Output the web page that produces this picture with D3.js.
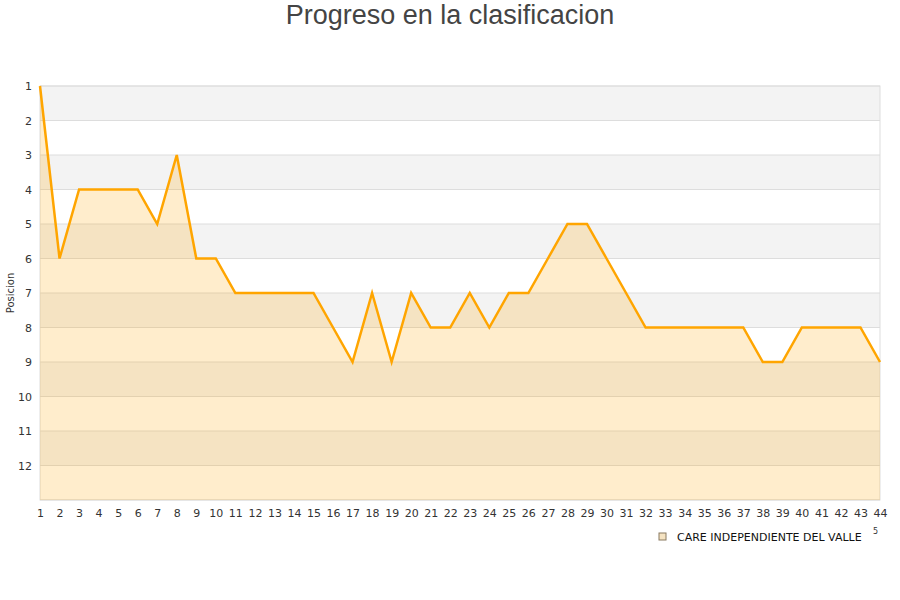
<!DOCTYPE html>
<html>
<head>
<meta charset="utf-8">
<script src="https://cdn.jsdelivr.net/npm/d3@7"></script>
<style>
  body { margin: 0; background: #fff; }
  svg { display: block; }
</style>
</head>
<body>
<div id="chart"></div>
<script>
// jornadas y posiciones
const rounds = d3.range(1, 45);
const positions = [1, 6, 4, 4, 4, 4, 5, 3, 6, 6, 7, 7, 7, 7, 7, 8, 9, 7, 9, 7, 8, 8,
                   7, 8, 7, 7, 6, 5, 5, 6, 7, 8, 8, 8, 8, 8, 8, 9, 9, 8, 8, 8, 8, 9];
const yTicks = d3.range(1, 13);
const teamName = "CARE INDEPENDIENTE DEL VALLE";

const width = 900, height = 600;
const margin = {top: 86, right: 20, bottom: 100, left: 40};

const svg = d3.select("#chart").append("svg")
    .attr("width", width)
    .attr("height", height);

const x = d3.scaleLinear()
    .domain([1, 44])
    .range([margin.left, width - margin.right]);

const y = d3.scaleLinear()
    .domain([1, 13])
    .range([margin.top, height - margin.bottom]);

// alternating bands
svg.append("g").selectAll("rect")
  .data(d3.range(1, 13))
  .enter().append("rect")
    .attr("x", x(1))
    .attr("y", d => y(d))
    .attr("width", x(44) - x(1))
    .attr("height", d => y(d + 1) - y(d))
    .attr("fill", d => d % 2 === 1 ? "#f3f3f3" : "#ffffff");

// grid lines
svg.append("g").selectAll("line")
  .data(d3.range(1, 14))
  .enter().append("line")
    .attr("x1", x(1)).attr("x2", x(44))
    .attr("y1", d => y(d)).attr("y2", d => y(d))
    .attr("stroke", "#dddddd")
    .attr("stroke-width", 1);

// plot border
svg.append("rect")
    .attr("x", x(1)).attr("y", y(1))
    .attr("width", x(44) - x(1)).attr("height", y(13) - y(1))
    .attr("fill", "none")
    .attr("stroke", "#dddddd");

const data = rounds.map((r, i) => ({r: r, p: positions[i]}));

svg.append("path")
    .datum(data)
    .attr("fill", "rgba(255,165,0,0.2)")
    .attr("d", d3.area()
        .x(d => x(d.r))
        .y0(y(13))
        .y1(d => y(d.p)));

svg.append("path")
    .datum(data)
    .attr("fill", "none")
    .attr("stroke", "#ffa500")
    .attr("stroke-width", 2.5)
    .attr("stroke-linejoin", "miter")
    .attr("d", d3.line()
        .x(d => x(d.r))
        .y(d => y(d.p)));

// axes
const xAxis = svg.append("g")
    .attr("transform", "translate(0," + (y(13) + 6) + ")")
    .call(d3.axisBottom(x).tickValues(rounds).tickFormat(d3.format("d")).tickSize(0));
xAxis.select(".domain").remove();
xAxis.selectAll("text")
    .attr("fill", "#333")
    .style("font-family", "DejaVu Sans")
    .style("font-size", "11px");

const yAxis = svg.append("g")
    .attr("transform", "translate(" + (x(1) - 8) + ",0)")
    .call(d3.axisLeft(y).tickValues(yTicks).tickFormat(d3.format("d")).tickSize(0).tickPadding(0));
yAxis.select(".domain").remove();
yAxis.selectAll("text")
    .attr("fill", "#333")
    .style("font-family", "DejaVu Sans")
    .style("font-size", "11px");

// y title
svg.append("text")
    .attr("transform", "translate(14," + ((y(1) + y(13)) / 2) + ") rotate(-90)")
    .attr("text-anchor", "middle")
    .attr("fill", "#333")
    .style("font-family", "DejaVu Sans")
    .style("font-size", "10px")
    .text("Posicion");

// title
svg.append("text")
    .attr("x", width / 2)
    .attr("y", 24)
    .attr("text-anchor", "middle")
    .attr("fill", "#444")
    .style("font-family", "Liberation Sans, Arial, sans-serif")
    .style("font-size", "27px")
    .text("Progreso en la clasificacion");

// legend
const legend = svg.append("g").attr("transform", "translate(659,533)");
legend.append("rect")
    .attr("width", 7).attr("height", 7)
    .attr("fill", "#f5e3c2")
    .attr("stroke", "#8a7a60")
    .attr("stroke-width", 1);
legend.append("text")
    .attr("x", 18).attr("y", 7.5)
    .attr("fill", "#111")
    .style("font-family", "DejaVu Sans")
    .style("font-size", "11px")
    .text(teamName);
legend.append("text")
    .attr("x", 214).attr("y", 1)
    .attr("fill", "#333")
    .style("font-family", "DejaVu Sans")
    .style("font-size", "8px")
    .text("5");
</script>
</body>
</html>
